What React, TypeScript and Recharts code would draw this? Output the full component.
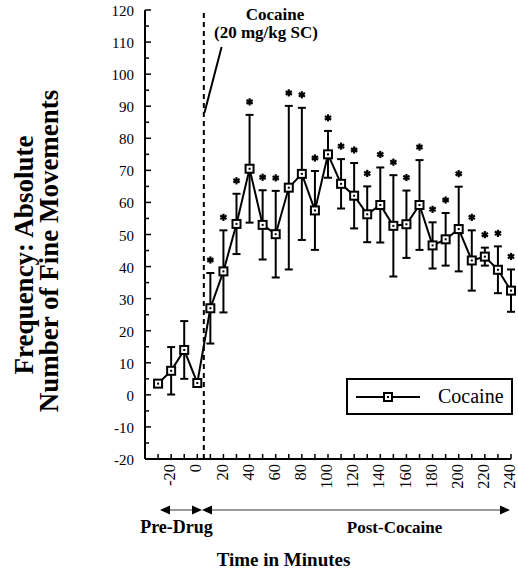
import React from 'react';
import { ComposedChart, Line, XAxis, YAxis, ErrorBar, ReferenceLine, Legend } from 'recharts';

// minutes relative to injection
const TIMES = [-30, -20, -10, 0, 10, 20, 30, 40, 50, 60, 70, 80, 90, 100, 110, 120, 130, 140, 150, 160, 170, 180, 190, 200, 210, 220, 230, 240];
const MEANS = [3.5, 7.5, 14, 3.7, 27, 38.5, 53.3, 70.5, 53, 50.1, 64.6, 68.9, 57.5, 75, 65.8, 62.1, 56.3, 59.2, 52.7, 53.2, 59.2, 46.6, 48.5, 51.7, 41.9, 43.1, 39, 32.5];
const ERRORS = [0, 7.4, 9, 0, 11, 12.8, 9.4, 16.8, 10.8, 13.5, 25.5, 20.6, 12.3, 7.3, 7.7, 10.2, 8.7, 11.7, 15.8, 10.5, 14, 7.2, 8.2, 13.2, 9.4, 2.8, 7.3, 6.6];
const SIGNIFICANT = [0, 0, 0, 0, 1, 1, 1, 1, 1, 1, 1, 1, 1, 1, 1, 1, 1, 1, 1, 1, 1, 1, 1, 1, 1, 1, 1, 1];

const X_TICKS = [-40, -30, -20, -10, 0, 10, 20, 30, 40, 50, 60, 70, 80, 90, 100, 110, 120, 130, 140, 150, 160, 170, 180, 190, 200, 210, 220, 230, 240];
const X_LABELS = [-20, 0, 20, 40, 60, 80, 100, 120, 140, 160, 180, 200, 220, 240];
const Y_TICKS = [-20, -15, -10, -5, 0, 5, 10, 15, 20, 25, 30, 35, 40, 45, 50, 55, 60, 65, 70, 75, 80, 85, 90, 95, 100, 105, 110, 115, 120];
const INJECTION_TIME = 5;

const data = TIMES.map((t, i) => ({
  t,
  mean: MEANS[i],
  err: ERRORS[i],
  star: SIGNIFICANT[i] ? MEANS[i] + ERRORS[i] : null,
}));

const SERIF = '"Liberation Serif", "Times New Roman", serif';
const AXIS_X = 145;
const AXIS_Y = 459;

const YTick = (props: any) => {
  const { y, payload } = props;
  const major = payload.value % 10 === 0;
  return (
    <g>
      <line x1={AXIS_X} x2={AXIS_X + (major ? 6 : 4)} y1={y} y2={y} stroke="#000" strokeWidth={1.5} />
      {major && (
        <text x={134} y={y} dy="0.4em" textAnchor="end" fontFamily={SERIF} fontSize={15} fill="#000">
          {payload.value}
        </text>
      )}
    </g>
  );
};

const XTick = (props: any) => {
  const { x, payload } = props;
  const labelled = X_LABELS.includes(payload.value);
  return (
    <g>
      <line x1={x} x2={x} y1={AXIS_Y} y2={AXIS_Y - 5} stroke="#000" strokeWidth={1.5} />
      {labelled && (
        <text
          x={x}
          y={464}
          dy="0.25em"
          textAnchor="end"
          transform={`rotate(-90, ${x}, 464)`}
          fontFamily={SERIF}
          fontSize={16.5}
          fill="#000"
        >
          {payload.value}
        </text>
      )}
    </g>
  );
};

const SquareDot = (props: any) => {
  const { cx, cy } = props;
  if (cx == null || cy == null) return null;
  return (
    <g>
      <rect x={cx - 4} y={cy - 4} width={8} height={8} fill="#fff" stroke="#000" strokeWidth={2} />
      <rect x={cx - 1} y={cy - 1} width={2} height={2} fill="#000" />
    </g>
  );
};

const StarDot = (props: any) => {
  const { cx, cy, value } = props;
  if (cx == null || cy == null || value == null) return null;
  const sy = cy - 13;
  const r = 3.6;
  return (
    <g stroke="#000" strokeWidth={2.2}>
      <line x1={cx} y1={sy - r} x2={cx} y2={sy + r} />
      <line x1={cx - r * 0.87} y1={sy - r / 2} x2={cx + r * 0.87} y2={sy + r / 2} />
      <line x1={cx - r * 0.87} y1={sy + r / 2} x2={cx + r * 0.87} y2={sy - r / 2} />
    </g>
  );
};

const LegendBox = () => (
  <div
    style={{
      boxSizing: 'border-box',
      width: 167,
      height: 37,
      border: '2px solid #000',
      background: '#fff',
      display: 'flex',
      alignItems: 'center',
    }}
  >
    <svg width={80} height={20} style={{ marginLeft: 8 }}>
      <line x1={0} x2={64} y1={10} y2={10} stroke="#000" strokeWidth={2} />
      <rect x={28} y={6} width={8} height={8} fill="#fff" stroke="#000" strokeWidth={2} />
      <rect x={31} y={9} width={2} height={2} fill="#000" />
    </svg>
    <span style={{ fontFamily: SERIF, fontSize: 20, color: '#000', marginLeft: 2 }}>Cocaine</span>
  </div>
);

export default function App() {
  return (
    <div style={{ position: 'absolute', left: 0, top: 0, width: 518, height: 573, background: '#fff' }}>
      <ComposedChart width={518} height={573} data={data} margin={{ top: 10, right: 7, left: 0, bottom: 0 }}>
        <XAxis
          type="number"
          dataKey="t"
          domain={[-40, 240]}
          ticks={X_TICKS}
          interval={0}
          height={114}
          axisLine={{ stroke: '#000', strokeWidth: 2 }}
          tickLine={false}
          tick={<XTick />}
        />
        <YAxis
          type="number"
          domain={[-20, 120]}
          ticks={Y_TICKS}
          interval={0}
          width={145}
          axisLine={{ stroke: '#000', strokeWidth: 2 }}
          tickLine={false}
          tick={<YTick />}
        />
        <ReferenceLine x={INJECTION_TIME} stroke="#000" strokeWidth={2} strokeDasharray="5 4" />
        <ReferenceLine
          segment={[
            { x: 18.6, y: 108.5 },
            { x: 5.5, y: 88 },
          ]}
          stroke="#000"
          strokeWidth={2}
        />
        <Line
          dataKey="mean"
          name="Cocaine"
          stroke="#000"
          strokeWidth={2}
          type="linear"
          dot={<SquareDot />}
          activeDot={false}
          isAnimationActive={false}
        >
          <ErrorBar dataKey="err" direction="y" width={4} stroke="#000" strokeWidth={2} />
        </Line>
        <Line
          dataKey="star"
          stroke="none"
          dot={<StarDot />}
          activeDot={false}
          legendType="none"
          isAnimationActive={false}
          connectNulls={false}
        />
        <Legend
          layout="horizontal"
          verticalAlign="middle"
          align="center"
          wrapperStyle={{ left: 346, top: 378, width: 167 }}
          content={<LegendBox />}
        />
      </ComposedChart>
      <svg
        width={518}
        height={573}
        style={{ position: 'absolute', left: 0, top: 0, pointerEvents: 'none' }}
        fontFamily={SERIF}
      >
        <text
          x={33}
          y={255}
          textAnchor="middle"
          transform="rotate(-90, 33, 255)"
          fontSize={27}
          fontWeight="bold"
        >
          Frequency: Absolute
        </text>
        <text
          x={58}
          y={251}
          textAnchor="middle"
          transform="rotate(-90, 58, 251)"
          fontSize={27}
          fontWeight="bold"
        >
          Number of Fine Movements
        </text>
        <text x={275} y={20} textAnchor="middle" fontSize={17} fontWeight="bold">
          Cocaine
        </text>
        <text x={266} y={38} textAnchor="middle" fontSize={17} fontWeight="bold">
          (20 mg/kg SC)
        </text>
        <g stroke="#333" strokeWidth={1}>
          <line x1={168} x2={194} y1={510} y2={510} />
          <line x1={210} x2={502} y1={510} y2={510} />
        </g>
        <g fill="#000">
          <polygon points="160,510 170,505.5 170,514.5" />
          <polygon points="202,510 192,505.5 192,514.5" />
          <polygon points="202,510 212,505.5 212,514.5" />
          <polygon points="510,510 500,505.5 500,514.5" />
        </g>
        <text x={176.5} y={533} textAnchor="middle" fontSize={18} fontWeight="bold">
          Pre-Drug
        </text>
        <text x={394.5} y={533} textAnchor="middle" fontSize={17} fontWeight="bold">
          Post-Cocaine
        </text>
        <text x={283.5} y={566} textAnchor="middle" fontSize={19} fontWeight="bold">
          Time in Minutes
        </text>
      </svg>
    </div>
  );
}
